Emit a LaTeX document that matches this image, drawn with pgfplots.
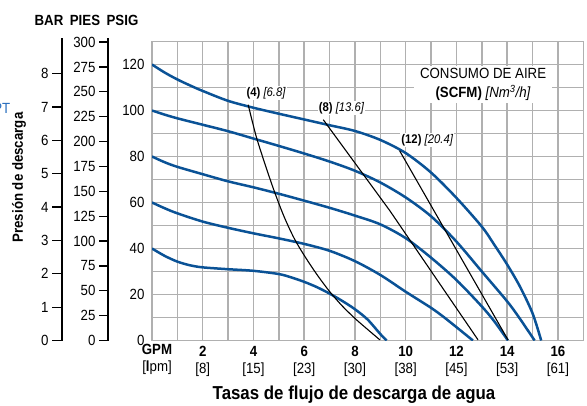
\documentclass[border=0pt]{standalone}
\usepackage{fontspec}
\setmainfont{Liberation Sans}[FakeStretch=0.9]
\usepackage{pgfplots}
\pgfplotsset{compat=1.18}
\definecolor{curveblue}{RGB}{10,82,150}
\definecolor{ptblue}{RGB}{40,110,190}
\definecolor{gridgray}{RGB}{176,176,176}
\newcommand{\fs}{\fontsize{14.8}{17}\selectfont}
\newcommand{\fl}{\fontsize{12.6}{14}\selectfont}
\pgfplotsset{
  sideaxis/.style={
    scale only axis, width=10bp, xmin=0, xmax=1,
    axis y line*=left, axis x line=none,
    tick align=outside,
    every tick/.style={black, line width=1.3bp},
    axis line style={black, line width=1.7bp},
    yticklabel style={font=\fs},
    /pgf/number format/assume math mode=true,
    clip=false,
  },
  curve/.style={curveblue, line width=2.5bp, smooth, no marks},
  scfm/.style={black, line width=1.1bp, no marks},
}
\begin{document}
\begin{tikzpicture}[x=1bp,y=1bp]
\useasboundingbox (0,0) rectangle (587,-405);
% BAR axis
\begin{axis}[sideaxis, at={(62bp,-340.5bp)}, anchor=south west,
  height=302.2bp, ymin=0, ymax=9.06, ytick={0,1,...,8}, major tick length=10bp]
\end{axis}
% PIES axis
\begin{axis}[sideaxis, at={(108bp,-340.5bp)}, anchor=south west,
  height=302.4bp, ymin=0, ymax=304, ytick={0,25,...,300}, major tick length=9bp]
\end{axis}
% main axis
\begin{axis}[
  at={(152bp,-340.5bp)}, anchor=south west,
  scale only axis, width=431.3bp, height=299bp,
  xmin=0, xmax=17, ymin=0, ymax=130,
  xtick={0,...,17}, ytick={0,10,...,130},
  xticklabels={{},{},{\textbf{2}\\{[8]}},{},{\textbf{4}\\{[15]}},{},{\textbf{6}\\{[23]}},{},{\textbf{8}\\{[30]}},{},{\textbf{10}\\{[38]}},{},{\textbf{12}\\{[45]}},{},{\textbf{14}\\{[53]}},{},{\textbf{16}\\{[61]}},{}},
  yticklabels={0,{},20,{},40,{},60,{},80,{},100,{},120,{}},
  grid=major,
  major grid style={draw=gridgray, line width=1.5bp},
  major tick length=0pt,
  axis line style={draw=gridgray, line width=1.5bp},
  xticklabel style={align=center, font=\fs, yshift=-2bp},
  yticklabel style={font=\fs, xshift=-4bp},
]
% pump curves at air inlet 40, 60, 80, 100, 120 psig
\addplot[curve] coordinates {(0,40) (0.5,36.8) (1,34.3) (1.5,32.7) (2,31.8) (3,31) (4,30.3) (5,28.9) (5.5,27.4) (6,25.5) (6.5,23.2) (7,20.4) (7.5,17.2) (8,13.6) (8.5,9.1) (9,2.8) (9.25,0)};
\addplot[curve] coordinates {(0,60) (0.5,57.5) (1,55.3) (2,51.7) (3,49) (4,46.6) (5,44.4) (6,42) (7,39) (8,34.5) (9,28.5) (10,21.2) (11,14.2) (11.5,10.2) (12,5.8) (12.65,0)};
\addplot[curve] coordinates {(0,80) (0.5,77.5) (1,75.5) (2,72.3) (3,69.2) (4,66.6) (5,63.8) (6,60.8) (7,57.7) (8,54.3) (9,50.5) (10,44.5) (11,36) (12,26.3) (13,14.8) (13.5,8.2) (14.03,0)};
\addplot[curve] coordinates {(0,100) (0.5,98.2) (1,96.6) (2,93.8) (3,91) (4,87.8) (5,84.6) (6,81.3) (7,77.8) (8,73.8) (9,68.7) (10,62.2) (11,54) (12,43) (13,30) (14,17) (14.5,9.5) (15.08,0)};
\addplot[curve] coordinates {(0,120) (0.5,116.5) (1,113.5) (1.5,110.9) (2,108.5) (3,104.2) (4,101.2) (5,98.6) (6,96.1) (7,93.6) (8,91.1) (9,87.2) (10,81.5) (11,73) (12,62) (13,49.5) (13.5,41.5) (14,33) (14.5,23.5) (15,11.8) (15.34,0)};
% air consumption lines
\addplot[scfm, smooth] coordinates {(3.79,102.5) (4.1,89) (4.4,78.5) (4.8,65.5) (5.2,54) (5.6,44.5) (6,37) (6.5,28.7) (7,21.3) (7.5,15) (8,9.6) (8.5,4.8) (8.98,0.3)};
\addplot[scfm] coordinates {(6.75,96) (9.37,56.5) (12.85,0.3)};
\addplot[scfm] coordinates {(9.76,82.5) (14.03,0.3)};
% labels
\node[fill=white, inner sep=1bp, font=\fl] at (axis cs:4.5,107.5) {\textbf{(4)} \textit{[6.8]}};
\node[fill=white, inner sep=1bp, font=\fl] at (axis cs:7.47,101) {\textbf{(8)} \textit{[13.6]}};
\node[fill=white, inner sep=1bp, font=\fl] at (axis cs:10.85,87.2) {\textbf{(12)} \textit{[20.4]}};
\node[fill=white, inner sep=0pt, minimum width=138bp, minimum height=37bp, align=center, font=\fontsize{14.8}{18.5}\selectfont] at (axis cs:13.05,111.3) {CONSUMO DE AIRE\\\textbf{(SCFM)} \textit{[Nm\textsuperscript{3}/h]}};
\end{axis}
% GPM / lpm label under x = 0
\node[anchor=north, align=center, font=\fs, yshift=0bp] at (157,-340.5) {\textbf{GPM}\\{[}\textbf{l}pm{]}};
% headers and titles
\node[font=\bfseries\fs] at (49,-20) {BAR};
\node[font=\bfseries\fs] at (85,-20) {PIES};
\node[font=\bfseries\fs] at (122.5,-20) {PSIG};
\node[anchor=east, text=ptblue, font=\fs, inner sep=0pt] at (10.5,-108) {PT};
\node[rotate=90, font=\bfseries\fs] at (19,-177.5) {Presión de descarga};
\node[font=\bfseries\fontsize{18.8}{22}\selectfont] at (354,-395) {Tasas de flujo de descarga de agua};
\end{tikzpicture}
\end{document}
